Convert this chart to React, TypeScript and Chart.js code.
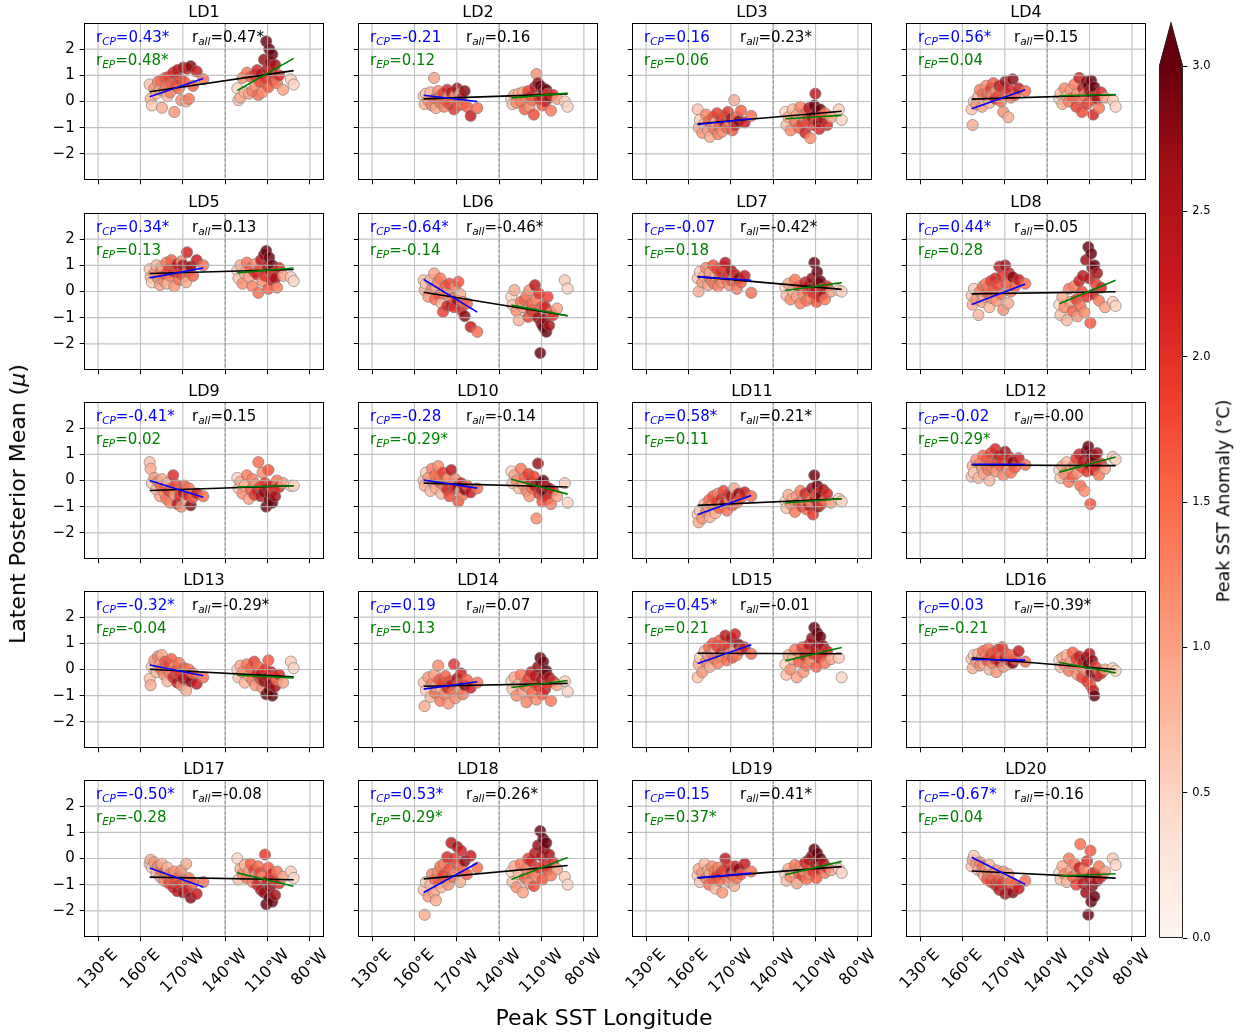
import React, { useEffect, useRef } from "react";
import { Chart, registerables } from "chart.js";

Chart.register(...registerables);

const FONT = "'DejaVu Sans', 'Liberation Sans', sans-serif";
Chart.defaults.font.family = FONT;
Chart.defaults.color = "#000";

// ---------------- data ----------------
const panelNames = [
  "LD1", "LD2", "LD3", "LD4", "LD5", "LD6", "LD7", "LD8", "LD9", "LD10",
  "LD11", "LD12", "LD13", "LD14", "LD15", "LD16", "LD17", "LD18", "LD19", "LD20",
];

// Central-Pacific events: peak SST longitude (deg E) and peak anomaly (degC)
const cpLon = [
  166.5, 167.2, 168.1, 169.8, 171.3, 172.4, 173.9, 174.6, 175.2, 176.8, 177.5, 178.3, 179.1, 180.2, 181.0, 181.9,
  183.2, 184.0, 184.8, 186.1, 187.3, 188.0, 188.9, 190.2, 191.1, 192.4, 193.0, 194.3, 195.6, 197.2, 199.8, 204.5,
];
const cpAnom = [
  0.7, 0.9, 0.6, 1.1, 0.8, 1.3, 1.0, 1.5, 0.9, 1.2, 1.7, 1.4, 0.8, 1.9, 1.3, 1.6,
  2.1, 1.1, 1.8, 2.4, 1.5, 2.0, 1.2, 2.6, 1.7, 0.9, 2.2, 1.4, 2.8, 1.6, 2.3, 1.5,
];

// Eastern-Pacific events
const epLon = [
  228.6, 229.4, 230.8, 232.3, 233.9, 235.4, 236.8, 238.1, 239.3, 240.6, 241.4, 242.7, 243.5, 244.6, 245.3, 246.4,
  247.5, 248.2, 249.1, 249.9, 250.6, 251.2, 251.9, 252.6, 253.4, 254.3, 255.4, 256.7, 258.2, 261.0, 266.5, 268.5,
];
const epAnom = [
  0.5, 0.7, 0.9, 1.2, 0.8, 1.4, 1.0, 1.6, 1.3, 1.9, 1.1, 2.2, 1.5, 1.8, 2.4, 1.2,
  2.7, 2.0, 3.0, 2.5, 1.7, 3.2, 2.8, 2.2, 3.1, 1.9, 2.6, 1.4, 2.1, 1.0, 0.6, 0.5,
];

// latent posterior mean per dimension, CP events
const cpLatent = [
  [0.65, 0.1, -0.15, 0.5, 0.3, 0.75, 0.45, 0.8, -0.24, 0.4, 0.9, 0.55, 0.2, 0.95, 0.35, 0.7, 1.1, -0.4, 0.6, 1.2, 0.5, 0.85, 0.05, 1.3, 0.75, 0.0, 1.25, 0.1, 1.35, 0.6, 1.15, 0.85],
  [0.2, -0.1, 0.3, 0.05, 0.35, -0.15, 0.9, 0.1, -0.25, 0.4, 0.15, -0.05, 0.25, 0.3, -0.2, 0.05, 0.45, 0.2, -0.1, 0.35, 0.1, -0.3, 0.25, 0.5, -0.15, 0.3, 0.1, -0.1, 0.4, -0.2, -0.55, -0.25],
  [-0.3, -1.0, -0.7, -1.2, -0.85, -0.5, -1.1, -0.75, -1.35, -0.9, -0.6, -1.05, -0.8, -0.45, -1.25, -0.95, -0.7, -1.15, -0.55, -0.85, -1.0, -0.4, -0.75, -0.65, -1.1, 0.05, -0.9, -0.6, -0.75, -0.35, -0.8, -0.55],
  [-0.3, -0.9, 0.0, -0.1, 0.2, 0.45, -0.2, 0.3, 0.05, 0.6, 0.15, 0.35, -0.05, 0.5, 0.25, 0.7, 0.1, 0.4, 0.2, 0.6, 0.0, 0.55, -0.4, 0.75, 0.3, -0.6, 0.45, 0.15, 0.85, 0.25, 0.5, 0.4],
  [0.85, 0.55, 0.35, 0.7, 1.0, 0.5, 0.25, 0.8, 0.95, 0.4, 0.65, 1.1, 0.3, 0.85, 0.6, 1.2, 0.75, 0.2, 0.9, 1.05, 0.45, 0.7, 1.15, 1.0, 0.55, 0.35, 1.5, 0.8, 0.95, 0.6, 1.2, 1.0],
  [0.43, 0.05, 0.3, -0.2, 0.45, 0.1, 0.69, -0.3, 0.18, 0.35, -0.15, 0.5, -0.45, -0.78, -0.08, 0.2, -0.55, 0.05, 0.3, -0.52, -0.25, -0.6, 0.18, -0.33, 0.37, -0.1, -0.7, -0.4, -0.94, -0.46, -1.35, -1.54],
  [0.5, 0.0, 0.75, 0.35, 0.6, 0.9, 0.25, 0.55, 0.7, 0.4, 1.0, 0.3, 0.6, 0.85, 0.2, 0.5, 0.75, 0.35, 0.95, 1.1, 0.45, 0.6, 0.25, 0.8, 0.4, 0.55, 0.65, 0.1, 0.5, 0.35, 0.6, -0.05],
  [-0.15, -0.5, 0.1, -0.3, -0.9, 0.0, -0.4, 0.2, -0.2, 0.3, -0.05, 0.15, -0.6, 0.4, -0.25, 0.05, 0.5, -0.35, 0.25, 0.95, -0.1, 0.6, -0.7, 1.0, 0.3, -0.45, 0.7, 0.0, 0.55, 0.2, 0.45, 0.3],
  [0.7, 0.45, -0.1, 0.1, -0.35, -0.05, -0.6, -0.2, 0.05, -0.45, -0.25, -0.7, -0.1, -0.4, -0.85, -0.3, 0.2, -0.55, -0.15, -0.9, -0.35, -0.6, -1.0, -0.45, -0.2, -0.75, -0.55, -0.3, -0.95, -0.65, -0.5, -0.6],
  [0.0, -0.2, 0.3, 0.1, -0.4, 0.45, -0.1, 0.2, -0.3, 0.55, -0.05, 0.15, -0.5, 0.3, -0.2, 0.0, -0.35, 0.1, -0.6, 0.4, -0.15, -0.3, 0.05, -0.25, -0.8, -0.4, -0.1, -0.55, -0.35, -0.2, -0.45, -0.3],
  [-1.3, -1.6, -1.15, -1.45, -0.9, -1.2, -1.0, -0.75, -1.4, -0.95, -0.6, -1.1, -1.25, -0.8, -0.5, -1.05, -0.7, -0.9, -0.4, -0.85, -1.15, -0.55, -0.75, -0.6, -0.95, -0.3, -0.7, -0.85, -0.5, -0.65, -0.45, -0.6],
  [0.15, 0.55, 0.3, 0.8, 0.1, 0.65, 0.45, 0.95, 0.25, 0.6, 0.85, 0.4, 0.0, 1.05, 0.5, 0.7, 1.2, 0.35, 0.75, 0.95, 0.55, 0.8, 0.2, 1.1, 0.6, 0.4, 0.9, 0.3, 0.7, 0.5, 0.85, 0.6],
  [-0.35, -0.6, 0.1, 0.35, -0.1, 0.5, 0.2, 0.0, 0.55, -0.2, 0.3, 0.05, -0.45, 0.2, -0.15, 0.4, -0.3, 0.1, -0.05, -0.5, 0.25, -0.2, -0.6, -0.35, 0.05, -0.8, -0.25, 0.0, -0.45, -0.15, -0.55, -0.3],
  [-0.5, -1.4, -0.8, -0.3, -1.05, -0.55, -0.2, -0.9, -0.65, 0.15, -0.4, -1.2, -0.75, -0.5, -0.95, -0.25, -0.7, -1.3, -0.45, -0.6, -0.85, 0.2, -1.1, -0.35, -0.55, -0.75, -0.15, -0.95, -0.6, -0.4, -0.7, -0.5],
  [-0.3, 0.2, 0.45, -0.1, 0.7, 0.3, 0.55, 0.85, 0.1, 0.6, 1.0, 0.4, 0.75, 0.9, 0.25, 1.1, 0.65, 0.5, 0.95, 1.3, 0.35, 0.8, 0.6, 1.2, 0.45, 0.7, 1.35, 0.55, 0.95, 0.75, 0.85, 0.6],
  [0.4, 0.05, 0.55, 0.3, 0.6, 0.15, 0.45, 0.7, 0.2, 0.5, 0.35, 0.8, 0.0, 0.55, 0.25, 0.65, 0.4, -0.1, 0.75, 0.3, 0.5, 0.85, 0.1, 0.45, 0.6, 0.2, 0.35, 0.55, 0.25, 0.4, 0.7, 0.3],
  [-0.2, -0.05, -0.35, -0.15, -0.55, -0.3, -0.7, -0.45, -0.2, -0.85, -0.5, -0.65, -0.35, -0.95, -0.6, -0.8, -1.1, -0.5, -0.9, -1.25, -0.7, -1.0, -0.45, -1.3, -0.85, -0.2, -1.2, -0.75, -1.5, -0.95, -1.35, -0.9],
  [-1.2, -2.15, -0.9, -1.45, -1.0, -0.6, -1.3, -0.8, -1.6, -0.5, -0.95, -0.3, -1.1, -0.65, -0.2, -0.85, 0.05, -1.0, -0.4, 0.6, -0.7, 0.0, -0.55, 0.45, -0.25, -0.9, 0.3, -0.45, -0.1, -0.6, 0.1, -0.35],
  [-0.65, -0.4, -0.9, -0.55, -0.2, -0.75, -0.45, -1.0, -0.6, -0.3, -0.8, -0.5, -1.15, -0.65, -0.35, -0.85, -0.55, -1.3, -0.45, 0.0, -0.7, -0.25, -0.9, -0.5, -0.65, -1.05, -0.3, -0.75, -0.4, -0.6, -0.2, -0.5],
  [-0.3, -0.05, 0.1, -0.2, -0.45, -0.15, -0.5, -0.3, -0.65, -0.4, -0.8, -0.55, -0.25, -0.9, -0.6, -0.75, -1.0, -0.45, -0.85, -1.2, -0.7, -0.95, -0.5, -1.35, -0.8, -0.6, -1.1, -0.9, -1.3, -1.0, -1.15, -0.85],
];

// latent posterior mean per dimension, EP events
const epLatent = [
  [0.5, 0.05, 0.15, 0.9, 0.35, 1.1, 0.3, 0.95, 0.4, 1.0, 0.6, 1.2, 0.25, 0.75, 1.05, 0.35, 1.6, 0.9, 2.3, 1.25, 0.55, 2.0, 1.5, 1.15, 1.8, 0.8, 1.4, 0.7, 1.0, 0.45, 0.85, 0.65],
  [0.1, -0.1, 0.25, -0.05, 0.3, 0.0, 0.35, -0.3, 0.15, 0.4, -0.2, 0.2, 0.05, -0.5, 0.55, 1.05, 0.7, 0.1, 0.6, 0.2, -0.15, 0.5, 0.35, 0.0, 0.45, 0.3, 0.15, -0.35, 0.25, 0.1, 0.0, -0.2],
  [-0.4, -0.9, -0.6, -1.1, -0.3, -0.75, -0.5, -1.0, -0.2, -0.85, -0.55, -1.2, -0.4, -0.7, -0.25, -1.4, -0.6, -0.9, -0.15, 0.3, -0.65, -0.4, -0.8, -1.05, -0.3, -0.55, -0.7, -0.45, -0.9, -0.6, -0.3, -0.7],
  [0.1, 0.3, -0.1, 0.5, 0.2, 0.0, 0.45, 0.15, 0.65, -0.2, 0.3, 0.9, 0.1, -0.4, 0.5, 0.25, 0.75, -0.1, 0.6, 0.4, 0.05, 0.8, 0.3, -0.5, 0.55, 0.2, 0.1, -0.25, 0.35, 0.15, 0.05, -0.2],
  [0.8, 0.5, 1.0, 0.3, 0.7, 1.1, 0.55, 0.9, 0.2, 0.75, 1.05, 0.65, -0.05, 0.85, 1.2, 0.4, 1.4, 0.6, 1.55, 0.95, 0.1, 1.3, 0.8, 0.45, 1.0, 0.7, 0.5, 0.15, 0.9, 0.6, 0.55, 0.4],
  [-0.2, -0.52, 0.05, -0.75, -1.1, -0.4, -0.6, -0.33, -0.15, -0.97, 0.05, -0.7, -0.45, -0.84, 0.24, -0.3, -1.0, -0.08, -2.35, -1.22, -0.55, -1.35, -1.05, -0.6, -1.54, -0.2, -1.3, -0.8, -0.9, -0.65, 0.43, 0.11],
  [0.15, -0.15, 0.3, -0.3, 0.0, 0.45, -0.2, 0.2, -0.45, 0.1, -0.1, 0.35, -0.35, 0.05, 0.25, -0.25, 0.5, -0.05, 1.1, 0.15, -0.4, 0.75, 0.3, -0.2, 0.4, 0.1, -0.1, -0.3, 0.2, 0.0, 0.05, 0.0],
  [-0.5, -0.9, -0.2, -0.6, -1.1, 0.1, -0.4, -0.75, 0.2, -0.3, -0.95, 0.4, -0.55, 0.0, 0.6, -0.8, 1.2, -0.2, 1.7, 0.5, -1.2, 1.45, 0.9, -0.1, 1.0, 0.3, 0.7, -0.35, 0.15, -0.6, -0.4, -0.55],
  [0.1, -0.3, -0.05, -0.5, -0.2, 0.2, -0.7, -0.35, 0.05, -0.55, -0.15, -0.4, 0.7, -0.25, -0.6, 0.3, -0.45, -0.1, -1.0, -0.3, 0.4, -0.75, -0.5, -0.2, -0.85, -0.35, -0.6, 0.0, -0.25, -0.1, -0.2, -0.2],
  [0.35, -0.1, 0.2, 0.0, -0.3, 0.45, -0.15, 0.1, -0.4, 0.25, -0.6, -0.05, -0.3, 0.15, -0.2, -1.45, 0.65, -0.5, -0.1, -0.35, -0.8, 0.0, -0.45, -0.2, -0.55, -0.7, -0.3, -0.9, -0.4, -0.6, -0.1, -0.85],
  [-0.8, -1.05, -0.55, -0.9, -0.7, -1.2, -0.6, -0.85, -0.4, -1.0, -0.75, -0.5, -1.1, -0.65, -0.95, -0.8, -0.3, -1.3, 0.2, -0.7, -0.55, -0.2, -1.0, -0.45, -0.6, -0.9, -0.35, -0.75, -0.5, -0.85, -0.7, -0.8],
  [0.4, 0.1, 0.55, 0.25, 0.7, -0.05, 0.45, 0.15, 0.6, 0.85, 0.3, 1.0, -0.2, 0.5, 0.75, -0.4, 1.1, 0.35, 1.3, 0.6, -0.9, 1.0, 0.8, 0.4, 0.9, 0.55, 1.05, 0.2, 0.65, 0.45, 0.9, 0.8],
  [0.0, -0.3, 0.15, -0.1, -0.5, 0.2, -0.25, 0.05, -0.4, 0.3, -0.6, -0.15, 0.1, -0.35, -0.2, -0.7, -0.45, 0.0, -0.95, -0.3, 0.35, -0.8, -0.55, -0.1, -1.0, -0.25, -0.65, -0.4, -0.2, -0.5, 0.3, 0.05],
  [-0.45, -0.75, -0.3, -1.0, -0.55, -0.2, -0.85, -0.6, -1.25, -0.35, -0.7, -0.1, -0.9, -0.5, -0.25, -1.15, 0.1, -0.65, 0.45, -0.4, -0.95, 0.3, -0.2, -0.75, -0.05, -0.55, -0.3, -1.2, -0.45, -0.6, -0.45, -0.85],
  [0.2, -0.2, 0.55, 0.0, 0.4, 0.75, -0.3, 0.3, 0.6, 0.85, -0.1, 0.5, 0.15, 0.7, 0.95, 0.35, 1.2, 0.6, 1.6, 0.8, 0.1, 1.4, 1.0, 0.45, 1.25, 0.55, 0.9, 0.25, 0.7, 0.4, 0.45, -0.3],
  [0.35, 0.1, 0.45, 0.2, 0.55, -0.05, 0.3, 0.65, 0.05, 0.4, -0.2, 0.5, 0.15, -0.3, 0.3, 0.0, 0.45, -0.45, 0.2, 0.6, -0.6, -0.1, 0.35, -0.8, -1.0, 0.1, -0.25, -0.05, -0.15, 0.0, 0.05, -0.05],
  [0.0, -0.8, -0.4, -0.6, -0.25, -0.75, -0.5, -0.2, -0.9, -0.45, -0.65, -1.0, -0.3, -0.55, -1.2, -0.7, -1.3, 0.15, -1.75, -0.85, -0.35, -1.5, -1.1, -0.6, -1.65, -0.8, -1.4, -0.5, -0.95, -0.7, -0.5, -0.75],
  [-0.5, -0.9, -0.3, -1.1, -0.6, -0.2, -1.3, -0.75, -0.4, 0.0, -0.95, -0.1, -0.55, -1.05, 0.2, -0.7, 0.5, -0.35, 1.05, 0.1, -0.8, 0.75, 0.35, -0.25, 0.6, -0.45, 0.15, -0.65, -0.15, -0.4, -0.7, -1.0],
  [-0.6, -0.85, -0.4, -0.7, -0.5, -0.25, -0.95, -0.55, -0.3, -0.65, -0.45, -0.15, -0.8, -0.35, -0.05, -0.6, 0.1, -0.5, 0.35, -0.2, -0.75, 0.2, -0.1, -0.4, 0.0, -0.3, -0.15, -0.55, -0.35, -0.45, -0.4, -0.55],
  [-0.55, -0.8, -0.3, -0.6, -0.9, 0.0, -0.45, -0.7, -0.2, -1.0, -0.5, -0.35, 0.55, -0.65, -0.95, -0.4, -1.3, -0.1, -2.15, -0.75, 0.3, -1.65, -1.05, -0.55, -1.45, -0.6, -0.85, -0.3, -0.7, -0.5, 0.0, -0.25],
];

// least-squares fit lines, values at the two ends of each group's longitude span
const cpFit = [
  [0.18, 0.88], [0.24, 0.0], [-0.88, -0.66], [-0.28, 0.45], [0.52, 0.9],
  [0.46, -0.79], [0.56, 0.43], [-0.5, 0.29], [0.0, -0.64], [0.02, -0.29],
  [-1.3, -0.57], [0.62, 0.62], [0.17, -0.24], [-0.75, -0.47], [0.23, 0.95],
  [0.38, 0.36], [-0.36, -1.09], [-1.3, -0.17], [-0.74, -0.56], [0.05, -0.99],
];
const epFit = [
  [0.42, 1.65], [0.14, 0.32], [-0.66, -0.53], [0.22, 0.27], [0.71, 0.9],
  [-0.52, -0.93], [0.04, 0.34], [-0.47, 0.43], [-0.25, -0.2], [0.05, -0.52],
  [-0.86, -0.7], [0.32, 0.9], [-0.22, -0.32], [-0.69, -0.42], [0.33, 0.84],
  [0.27, -0.13], [-0.55, -1.06], [-0.8, 0.04], [-0.62, -0.11], [-0.67, -0.58],
];
const allFit = [
  [0.37, 1.18], [0.1, 0.29], [-0.85, -0.37], [0.09, 0.26], [0.69, 0.84],
  [-0.03, -0.93], [0.57, 0.08], [-0.09, -0.01], [-0.38, -0.2], [-0.1, -0.25],
  [-0.95, -0.7], [0.59, 0.57], [0.01, -0.28], [-0.64, -0.53], [0.62, 0.6],
  [0.45, 0.0], [-0.71, -0.81], [-0.78, -0.27], [-0.74, -0.31], [-0.48, -0.75],
];

// correlation coefficients (* = significant)
const rCp = ["0.43*", "-0.21", "0.16", "0.56*", "0.34*", "-0.64*", "-0.07", "0.44*", "-0.41*", "-0.28",
  "0.58*", "-0.02", "-0.32*", "0.19", "0.45*", "0.03", "-0.50*", "0.53*", "0.15", "-0.67*"];
const rEp = ["0.48*", "0.12", "0.06", "0.04", "0.13", "-0.14", "0.18", "0.28", "0.02", "-0.29*",
  "0.11", "0.29*", "-0.04", "0.13", "0.21", "-0.21", "-0.28", "0.29*", "0.37*", "0.04"];
const rAll = ["0.47*", "0.16", "0.23*", "0.15", "0.13", "-0.46*", "-0.42*", "0.05", "0.15", "-0.14",
  "0.21*", "-0.00", "-0.29*", "0.07", "-0.01", "-0.39*", "-0.08", "0.26*", "0.41*", "-0.16"];

const xTickValues = [130, 160, 190, 220, 250, 280];
const xTickLabels = ["130°E", "160°E", "170°W", "140°W", "110°W", "80°W"];
const yTickValues = [-2, -1, 0, 1, 2];
const cbarTicks = [0, 0.5, 1, 1.5, 2, 2.5, 3];
const dividerLon = 220;
const X_MIN = 120, X_MAX = 290, Y_MIN = -3, Y_MAX = 3;
const CBAR_MAX = 3;

// ---------------- colour map ----------------
const REDS = [
  [255, 245, 240], [254, 224, 210], [252, 187, 161], [252, 146, 114], [251, 106, 74],
  [239, 59, 44], [203, 24, 29], [165, 15, 21], [103, 0, 13],
];
function reds(t: number, alpha = 1): string {
  const c = Math.max(0, Math.min(1, t)) * (REDS.length - 1);
  const i = Math.min(REDS.length - 2, Math.floor(c));
  const f = c - i;
  const rgb = REDS[i].map((v, k) => Math.round(v + (REDS[i + 1][k] - v) * f));
  return `rgba(${rgb[0]},${rgb[1]},${rgb[2]},${alpha})`;
}

// ---------------- layout ----------------
const COL_LEFT = [84, 358, 632, 906];
const ROW_TOP = [23, 213, 402, 591, 780];
const PLOT_W = 240, PLOT_H = 157;
const PAD_L = 60, PAD_T = 30, PAD_R = 20, PAD_B = 80;
const XTICK_SIZE = 16;

function minus(v: number): string {
  return v < 0 ? "\u2212" + Math.abs(v) : String(v);
}

function drawR(ctx: CanvasRenderingContext2D, x: number, y: number, sub: string, value: string, color: string) {
  ctx.fillStyle = color;
  ctx.textAlign = "left";
  ctx.textBaseline = "alphabetic";
  ctx.font = `15px ${FONT}`;
  ctx.fillText("r", x, y);
  let w = ctx.measureText("r").width;
  ctx.font = `italic 10.5px ${FONT}`;
  ctx.fillText(sub, x + w, y + 3);
  w += ctx.measureText(sub).width;
  ctx.font = `15px ${FONT}`;
  ctx.fillText("=" + value, x + w, y);
}

function Panel({ index }: { index: number }) {
  const ref = useRef<HTMLCanvasElement | null>(null);
  const row = Math.floor(index / 4);
  const col = index % 4;

  useEffect(() => {
    const canvas = ref.current;
    if (!canvas) return;
    const showY = col === 0;
    const showX = row === 4;
    const cpMin = Math.min(...cpLon), cpMax = Math.max(...cpLon);
    const epMin = Math.min(...epLon), epMax = Math.max(...epLon);
    const points = [
      ...cpLon.map((x, i) => ({ x, y: cpLatent[index][i] })),
      ...epLon.map((x, i) => ({ x, y: epLatent[index][i] })),
    ];
    const colors = [...cpAnom, ...epAnom].map((a) => reds(a / CBAR_MAX, 0.82));

    const decor = {
      id: "panelDecor",
      afterDatasetDraw(chart: any, args: any) {
        if (args.index !== 3) return;
        const { ctx, chartArea: a, scales } = chart;
        ctx.save();
        ctx.strokeStyle = "rgba(176,176,176,0.8)";
        ctx.lineWidth = 1.1;
        ctx.beginPath();
        for (const v of xTickValues) {
          const px = scales.x.getPixelForValue(v);
          ctx.moveTo(px, a.top);
          ctx.lineTo(px, a.bottom);
        }
        for (const v of yTickValues) {
          const py = scales.y.getPixelForValue(v);
          ctx.moveTo(a.left, py);
          ctx.lineTo(a.right, py);
        }
        ctx.stroke();
        const dx = scales.x.getPixelForValue(dividerLon);
        ctx.strokeStyle = "#8a8a8a";
        ctx.lineWidth = 1;
        ctx.setLineDash([3.6, 1.6]);
        ctx.beginPath();
        ctx.moveTo(dx, a.top);
        ctx.lineTo(dx, a.bottom);
        ctx.stroke();
        ctx.restore();
      },
      afterDraw(chart: any) {
        const { ctx, chartArea: a, scales } = chart;
        ctx.save();
        ctx.strokeStyle = "#000";
        ctx.lineWidth = 1;
        ctx.strokeRect(a.left + 0.5, a.top + 0.5, a.right - a.left - 1, a.bottom - a.top - 1);

        ctx.fillStyle = "#000";
        ctx.font = `16px ${FONT}`;
        ctx.textAlign = "center";
        ctx.textBaseline = "alphabetic";
        ctx.fillText(panelNames[index], (a.left + a.right) / 2, a.top - 6.5);

        drawR(ctx, a.left + 12, a.top + 19.4, "CP", rCp[index], "#0000ff");
        drawR(ctx, a.left + 108, a.top + 19.4, "all", rAll[index], "#000000");
        drawR(ctx, a.left + 12, a.top + 42.4, "EP", rEp[index], "#008000");

        if (showX) {
          ctx.font = `${XTICK_SIZE}px ${FONT}`;
          ctx.fillStyle = "#000";
          ctx.textAlign = "center";
          ctx.textBaseline = "middle";
          xTickValues.forEach((v, i) => {
            const px = scales.x.getPixelForValue(v);
            const w = ctx.measureText(xTickLabels[i]).width;
            const h = XTICK_SIZE * 1.16;
            const half = (w + h) / Math.SQRT2 / 2;
            ctx.save();
            ctx.translate(px, a.bottom + 8.6 + half);
            ctx.rotate(-Math.PI / 4);
            ctx.fillText(xTickLabels[i], 0, 0);
            ctx.restore();
          });
        }
        ctx.restore();
      },
    };

    const lineDs = (data: { x: number; y: number }[], color: string) => ({
      data,
      showLine: true,
      borderColor: color,
      borderWidth: 1.6,
      pointRadius: 0,
      fill: false,
    });

    const chart = new Chart(canvas, {
      type: "scatter",
      data: {
        datasets: [
          lineDs([{ x: epMin, y: epFit[index][0] }, { x: epMax, y: epFit[index][1] }], "#008000"),
          lineDs([{ x: cpMin, y: cpFit[index][0] }, { x: cpMax, y: cpFit[index][1] }], "#0000ff"),
          lineDs([{ x: cpMin, y: allFit[index][0] }, { x: epMax, y: allFit[index][1] }], "#000000"),
          {
            data: points,
            pointRadius: 5.6,
            pointBackgroundColor: colors,
            pointBorderColor: "rgba(125,125,125,0.85)",
            pointBorderWidth: 0.8,
            showLine: false,
          } as any,
        ],
      },
      options: {
        responsive: false,
        animation: false,
        events: [],
        layout: { padding: { top: PAD_T, right: PAD_R, left: 0, bottom: 0 } },
        plugins: { legend: { display: false }, tooltip: { enabled: false }, title: { display: false } },
        scales: {
          x: {
            type: "linear",
            min: X_MIN,
            max: X_MAX,
            afterBuildTicks: (s: any) => {
              s.ticks = xTickValues.map((v) => ({ value: v }));
            },
            afterFit: (s: any) => {
              s.height = PAD_B;
            },
            ticks: { display: false },
            grid: { drawOnChartArea: false, drawTicks: true, tickLength: 4.3, tickColor: "#000", tickWidth: 1 },
            border: { display: false },
          },
          y: {
            type: "linear",
            min: Y_MIN,
            max: Y_MAX,
            afterBuildTicks: (s: any) => {
              s.ticks = yTickValues.map((v) => ({ value: v }));
            },
            afterFit: (s: any) => {
              s.width = PAD_L;
            },
            ticks: {
              display: showY,
              padding: 5,
              color: "#000",
              font: { family: FONT, size: 15 },
              callback: (v: any) => minus(Number(v)),
            },
            grid: { drawOnChartArea: false, drawTicks: true, tickLength: 4.3, tickColor: "#000", tickWidth: 1 },
            border: { display: false },
          },
        },
      },
      plugins: [decor],
    } as any);
    return () => chart.destroy();
  }, [index, row, col]);

  const W = PLOT_W + PAD_L + PAD_R;
  const H = PLOT_H + PAD_T + PAD_B;
  return (
    <canvas
      ref={ref}
      width={W}
      height={H}
      style={{ position: "absolute", left: COL_LEFT[col] - PAD_L, top: ROW_TOP[row] - PAD_T, width: W, height: H }}
    />
  );
}

// colour bar geometry
const CB_LEFT = 1159, CB_TOP = 66, CB_W = 24, CB_H = 872;
const CB_PAD_L = 5, CB_PAD_T = 50, CB_PAD_B = 12, CB_AXIS_W = 45;

function ColorBar() {
  const ref = useRef<HTMLCanvasElement | null>(null);
  useEffect(() => {
    const canvas = ref.current;
    if (!canvas) return;
    const bar = {
      id: "colorBar",
      beforeDatasetsDraw(chart: any) {
        const { ctx, chartArea: a, scales } = chart;
        const y = scales.y;
        ctx.save();
        for (let py = Math.floor(a.top); py < a.bottom; py++) {
          const v = y.getValueForPixel(py + 0.5);
          ctx.fillStyle = reds(v / CBAR_MAX);
          ctx.fillRect(a.left, py, a.right - a.left, 1);
        }
        const ext = 0.05 * (a.bottom - a.top);
        const mid = (a.left + a.right) / 2;
        ctx.fillStyle = reds(1);
        ctx.beginPath();
        ctx.moveTo(a.left, a.top);
        ctx.lineTo(mid, a.top - ext);
        ctx.lineTo(a.right, a.top);
        ctx.closePath();
        ctx.fill();
        ctx.strokeStyle = "#222";
        ctx.lineWidth = 1;
        ctx.beginPath();
        ctx.moveTo(a.left + 0.5, a.bottom - 0.5);
        ctx.lineTo(a.left + 0.5, a.top);
        ctx.lineTo(mid, a.top - ext);
        ctx.lineTo(a.right - 0.5, a.top);
        ctx.lineTo(a.right - 0.5, a.bottom - 0.5);
        ctx.closePath();
        ctx.stroke();
        ctx.restore();
      },
    };
    const chart = new Chart(canvas, {
      type: "scatter",
      data: { datasets: [] },
      options: {
        responsive: false,
        animation: false,
        events: [],
        layout: { padding: { top: CB_PAD_T, left: CB_PAD_L, bottom: CB_PAD_B, right: 0 } },
        plugins: { legend: { display: false }, tooltip: { enabled: false } },
        scales: {
          x: { display: false, min: 0, max: 1 },
          y: {
            position: "right",
            min: 0,
            max: CBAR_MAX,
            afterBuildTicks: (s: any) => {
              s.ticks = cbarTicks.map((v) => ({ value: v }));
            },
            afterFit: (s: any) => {
              s.width = CB_AXIS_W;
            },
            ticks: {
              padding: 5,
              color: "#000",
              font: { family: FONT, size: 11.5 },
              callback: (v: any) => Number(v).toFixed(1),
            },
            grid: { drawOnChartArea: false, drawTicks: true, tickLength: 4.3, tickColor: "#000", tickWidth: 1 },
            border: { display: false },
          },
        },
      },
      plugins: [bar],
    } as any);
    return () => chart.destroy();
  }, []);
  const W = CB_PAD_L + CB_W + CB_AXIS_W;
  const H = CB_PAD_T + CB_H + CB_PAD_B;
  return (
    <canvas
      ref={ref}
      width={W}
      height={H}
      style={{ position: "absolute", left: CB_LEFT - CB_PAD_L, top: CB_TOP - CB_PAD_T, width: W, height: H }}
    />
  );
}

const labelStyle: React.CSSProperties = {
  position: "absolute",
  fontFamily: FONT,
  whiteSpace: "nowrap",
  lineHeight: 1,
  color: "#000",
};

export default function App() {
  return (
    <div style={{ position: "absolute", left: 0, top: 0, width: 1258, height: 1036, background: "#fff", overflow: "hidden" }}>
      {panelNames.map((_, i) => (
        <Panel key={i} index={i} />
      ))}
      <ColorBar />
      <div style={{ ...labelStyle, left: 18, top: 504, fontSize: 22, transform: "translate(-50%, -50%) rotate(-90deg)" }}>
        Latent Posterior Mean (<span style={{ fontStyle: "italic" }}>μ</span>)
      </div>
      <div style={{ ...labelStyle, left: 604, top: 1018, fontSize: 22, transform: "translate(-50%, -50%)" }}>
        Peak SST Longitude
      </div>
      <div style={{ ...labelStyle, left: 1224, top: 501, fontSize: 17.5, transform: "translate(-50%, -50%) rotate(-90deg)" }}>
        Peak SST Anomaly (°C)
      </div>
    </div>
  );
}
